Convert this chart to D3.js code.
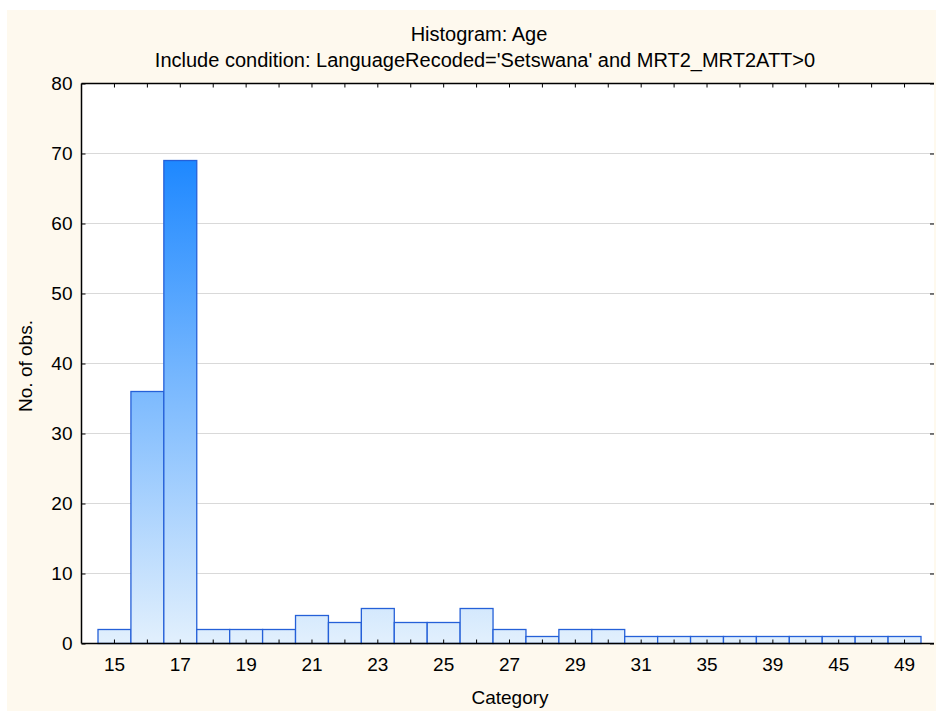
<!DOCTYPE html>
<html>
<head>
<meta charset="utf-8">
<script src="https://cdn.jsdelivr.net/npm/d3@7"></script>
<style>
  body { margin: 0; background: #fff; }
  text { font-family: "Liberation Sans", Arial, sans-serif; fill: #000; }
</style>
</head>
<body>
<div id="chart"></div>
<script>
var categories = ['15','16','17','18','19','20','21','22','23','24','25','26','27','28','29','30','31','33','35','37','39','42','45','47','49'];
var counts = [2, 36, 69, 2, 2, 2, 4, 3, 5, 3, 3, 5, 2, 1, 2, 2, 1, 1, 1, 1, 1, 1, 1, 1, 1];
var yTicks = [0, 10, 20, 30, 40, 50, 60, 70, 80];
var title = 'Histogram: Age';
var subtitle = "Include condition: LanguageRecoded='Setswana' and MRT2_MRT2ATT>0";

var width = 936, height = 711;
var plot = {left: 81.5, right: 934, top: 83.5, bottom: 643.5};

var svg = d3.select('#chart').append('svg')
  .attr('width', width)
  .attr('height', height);

// cream panel
svg.append('rect')
  .attr('x', 7).attr('y', 10)
  .attr('width', width - 7).attr('height', height - 10)
  .attr('fill', '#fef9ee');

svg.append('rect')
  .attr('x', plot.left).attr('y', plot.top)
  .attr('width', plot.right - plot.left).attr('height', plot.bottom - plot.top)
  .attr('fill', '#fff');

var x = d3.scaleBand()
  .domain(categories)
  .range([98, 921])
  .padding(0);

var y = d3.scaleLinear()
  .domain([0, 80])
  .range([plot.bottom, plot.top]);

// gradient tied to the value scale
var defs = svg.append('defs');
var grad = defs.append('linearGradient')
  .attr('id', 'barGrad')
  .attr('gradientUnits', 'userSpaceOnUse')
  .attr('x1', 0).attr('x2', 0)
  .attr('y1', y(0)).attr('y2', y(69));
grad.append('stop').attr('offset', '0%').attr('stop-color', '#e2f0fd');
grad.append('stop').attr('offset', '100%').attr('stop-color', '#1e88ff');

// gridlines
svg.append('g')
  .selectAll('line')
  .data(yTicks.filter(function(d){ return d > 0 && d < 80; }))
  .enter().append('line')
  .attr('x1', plot.left).attr('x2', plot.right)
  .attr('y1', function(d){ return y(d); })
  .attr('y2', function(d){ return y(d); })
  .attr('stroke', '#d9d9d9')
  .attr('stroke-width', 1);

// bars
svg.append('g')
  .selectAll('rect')
  .data(counts)
  .enter().append('rect')
  .attr('x', function(d, i){ return x(categories[i]); })
  .attr('y', function(d){ return y(d); })
  .attr('width', x.bandwidth())
  .attr('height', function(d){ return y(0) - y(d); })
  .attr('fill', 'url(#barGrad)')
  .attr('stroke', '#2560d8')
  .attr('stroke-width', 1.3);

// axes
var bottomAxis = d3.axisBottom(x)
  .tickSizeInner(-4).tickSizeOuter(0)
  .tickPadding(14)
  .tickFormat(function(d, i){ return i % 2 === 0 ? d : ''; });
var gb = svg.append('g')
  .attr('transform', 'translate(0,' + plot.bottom + ')')
  .call(bottomAxis);
gb.select('.domain').remove();
gb.append('line').attr('x1', plot.left).attr('x2', plot.right)
  .attr('stroke', '#000').attr('stroke-width', 1.5);

var gt = svg.append('g')
  .attr('transform', 'translate(0,' + plot.top + ')')
  .call(d3.axisTop(x).tickSizeInner(-4).tickSizeOuter(0).tickFormat(''));
gt.select('.domain').remove();
gt.append('line').attr('x1', plot.left).attr('x2', plot.right)
  .attr('stroke', '#000').attr('stroke-width', 1.5);

var gl = svg.append('g')
  .attr('transform', 'translate(' + plot.left + ',0)')
  .call(d3.axisLeft(y).tickValues(yTicks).tickSizeInner(-4).tickSizeOuter(0).tickPadding(9));
gl.select('.domain').remove();
gl.append('line').attr('y1', plot.top).attr('y2', plot.bottom)
  .attr('stroke', '#000').attr('stroke-width', 1.5);

var gr = svg.append('g')
  .attr('transform', 'translate(' + plot.right + ',0)')
  .call(d3.axisRight(y).tickValues(yTicks).tickSizeInner(-4).tickSizeOuter(0).tickFormat(''));
gr.select('.domain').remove();

svg.selectAll('.tick text')
  .style('font-family', '"Liberation Sans", Arial, sans-serif')
  .style('font-size', '19px');
svg.selectAll('.tick line').attr('stroke', '#000');

// titles
svg.append('text')
  .attr('x', 479).attr('y', 41)
  .attr('text-anchor', 'middle')
  .style('font-size', '20px')
  .text(title);
svg.append('text')
  .attr('x', 485).attr('y', 67)
  .attr('text-anchor', 'middle')
  .style('font-size', '20px')
  .text(subtitle);

svg.append('text')
  .attr('x', 510).attr('y', 704)
  .attr('text-anchor', 'middle')
  .style('font-size', '19px')
  .text('Category');

svg.append('text')
  .attr('transform', 'translate(32,' + 366 + ') rotate(-90)')
  .attr('text-anchor', 'middle')
  .style('font-size', '19px')
  .text('No. of obs.');
</script>
</body>
</html>
